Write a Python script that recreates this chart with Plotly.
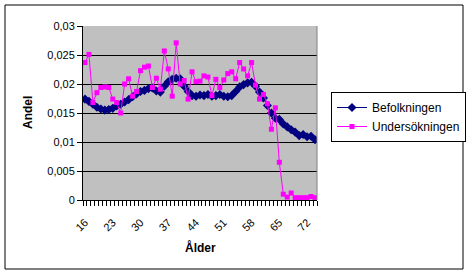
import plotly.graph_objects as go

ages = list(range(16, 75))
befolkningen = [0.0174, 0.0170, 0.0165, 0.0160, 0.0157, 0.0155, 0.0156, 0.0158, 0.0162, 0.0165,
                0.0169, 0.0173, 0.0178, 0.0183, 0.0187, 0.0189, 0.0192, 0.0193, 0.0188, 0.0186,
                0.0196, 0.0204, 0.0208, 0.0210, 0.0209, 0.0196, 0.0187, 0.0180, 0.0179, 0.0181,
                0.0180, 0.0182, 0.0179, 0.0180, 0.0182, 0.0179, 0.0178, 0.0180, 0.0187, 0.0195,
                0.0199, 0.0202, 0.0203, 0.0196, 0.0186, 0.0176, 0.0163, 0.0150, 0.0141, 0.0139,
                0.0131, 0.0126, 0.0121, 0.0117, 0.0111, 0.0113, 0.0109, 0.0110, 0.0104]
undersokningen = [0.0237, 0.0251, 0.0168, 0.0185, 0.0194, 0.0195, 0.0194, 0.0174, 0.0168, 0.0150,
                  0.0200, 0.0209, 0.0179, 0.0187, 0.0223, 0.0229, 0.0231, 0.0194, 0.0210, 0.0191,
                  0.0257, 0.0226, 0.0179, 0.0271, 0.0200, 0.0206, 0.0174, 0.0221, 0.0204, 0.0205,
                  0.0214, 0.0212, 0.0180, 0.0208, 0.0194, 0.0207, 0.0218, 0.0221, 0.0209, 0.0237,
                  0.0226, 0.0214, 0.0237, 0.0198, 0.0174, 0.0182, 0.0166, 0.0122, 0.0159, 0.0065,
                  0.0010, 0.0005, 0.0012, 0.0004, 0.0004, 0.0004, 0.0004, 0.0006, 0.0004]
x_ticks = [16, 23, 30, 37, 44, 51, 58, 65, 72]
y_ticks = [0, 0.005, 0.01, 0.015, 0.02, 0.025, 0.03]
y_labels = ["0", "0,005", "0,01", "0,015", "0,02", "0,025", "0,03"]

FONT = "Liberation Sans, Arial, sans-serif"

L, R, T, B = 83, 317, 26, 200   # plot area in pixels
LB = 213                         # baseline of the tick-label axis
W, H = 470, 276
pw, ph = R - L, LB - T

def px(xp):
    return (xp - L) / pw

def py(yp):
    return (LB - yp) / ph

fig = go.Figure()
fig.add_trace(go.Scatter(
    x=ages, y=befolkningen, name="Befolkningen", mode="lines+markers",
    line=dict(color="#000080", width=1),
    marker=dict(symbol="diamond", size=7, color="#000080")))
fig.add_trace(go.Scatter(
    x=ages, y=undersokningen, name="Undersökningen", mode="lines+markers",
    line=dict(color="#FF00FF", width=1),
    marker=dict(symbol="square", size=5, color="#FF00FF")))
# invisible helper trace so the label axis exists
fig.add_trace(go.Scatter(x=[ages[0]], y=[befolkningen[0]], xaxis="x2", yaxis="y",
                         mode="markers", marker=dict(opacity=0), showlegend=False,
                         hoverinfo="skip"))

fig.update_layout(
    width=W, height=H,
    margin=dict(l=L, r=W - R, t=T, b=H - LB, autoexpand=False),
    paper_bgcolor="white", plot_bgcolor="#C0C0C0",
    font=dict(family=FONT, size=11, color="black"),
    showlegend=True,
    legend=dict(x=px(331), y=py(92), xanchor="left", yanchor="top",
                bgcolor="white", bordercolor="black", borderwidth=1,
                font=dict(family=FONT, size=12, color="black"),
                itemwidth=30, tracegroupgap=0),
    xaxis=dict(range=[15.5, 74.5], showticklabels=False, ticks="",
               showgrid=False, zeroline=False, automargin=False,
               showline=True, linecolor="black", linewidth=1,
               minor=dict(ticks="outside", ticklen=5, tick0=15.5, dtick=1,
                          tickcolor="black", showgrid=False)),
    xaxis2=dict(range=[15.5, 74.5], overlaying="x", anchor="free", position=0,
                side="bottom", tickmode="array", tickvals=x_ticks,
                ticktext=[str(v) for v in x_ticks], tickangle=-45, ticks="",
                showline=False, showgrid=False, zeroline=False, automargin=False,
                tickfont=dict(family=FONT, size=11)),
    yaxis=dict(range=[0, 0.03], domain=[py(B), 1], tickmode="array",
               tickvals=y_ticks, ticktext=y_labels,
               ticks="outside", ticklen=5, tickcolor="black", automargin=False,
               showgrid=True, gridcolor="black", gridwidth=1, zeroline=False,
               showline=True, linecolor="black", linewidth=1,
               tickfont=dict(family=FONT, size=11)),
    shapes=[
        dict(type="line", xref="paper", yref="paper", x0=1, x1=1, y0=py(B), y1=1,
             line=dict(color="#808080", width=1)),
        dict(type="rect", xref="paper", yref="paper",
             x0=px(5), x1=px(463), y0=py(269), y1=py(5),
             line=dict(color="black", width=1), layer="below"),
    ],
    annotations=[
        dict(text="<b>Andel</b>", xref="paper", yref="paper", x=px(28), y=py(113),
             xanchor="center", yanchor="middle",
             textangle=-90, showarrow=False, font=dict(family=FONT, size=12)),
        dict(text="<b>Ålder</b>", xref="paper", yref="paper", x=px(200), y=py(247),
             xanchor="center", yanchor="middle",
             showarrow=False, font=dict(family=FONT, size=12)),
    ],
)

fig.write_html("out.html")
